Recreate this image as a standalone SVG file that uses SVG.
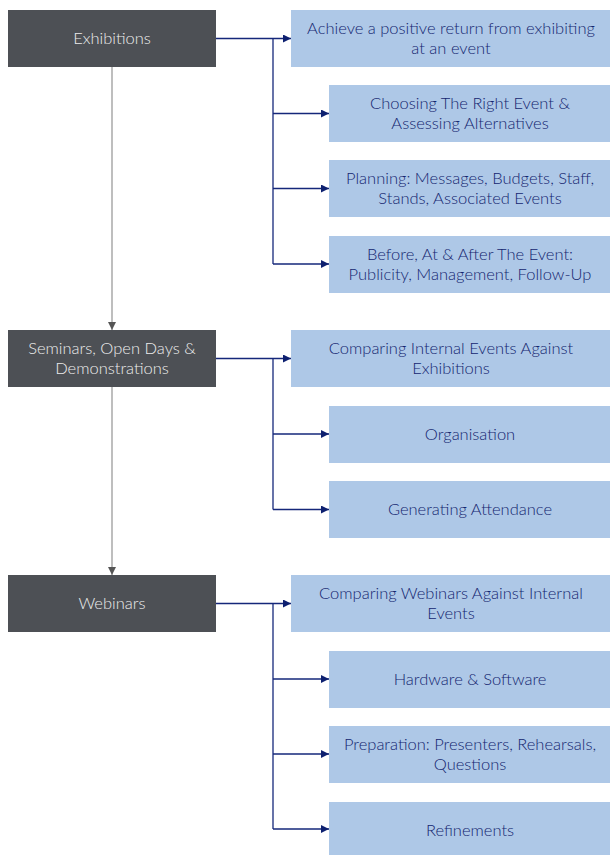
<svg xmlns="http://www.w3.org/2000/svg" width="610" height="855" viewBox="0 0 610 855">
<style>
.main{fill:#4d5055}
.sub{fill:#aec8e7}
.mt{font-family:Lato,"Open Sans",sans-serif;font-size:16.5px;font-weight:300;fill:#ececec;text-anchor:middle}
.st{font-family:Lato,"Open Sans",sans-serif;font-size:16.5px;font-weight:300;fill:#142670;text-anchor:middle}
.nv{fill:none;stroke:#15277a;stroke-width:1.3}
.gr{fill:none;stroke:#a8a8a8;stroke-width:1.5}
</style>
<defs>
<marker id="an" viewBox="0 0 10 10" refX="10" refY="5" markerWidth="8" markerHeight="8" markerUnits="userSpaceOnUse" orient="auto"><path d="M0,0L10,5L0,10z" fill="#0d2070"/></marker>
<marker id="ag" viewBox="0 0 10 10" refX="10" refY="5" markerWidth="8" markerHeight="8" markerUnits="userSpaceOnUse" orient="auto"><path d="M0,0L10,5L0,10z" fill="#555"/></marker>
</defs>
<rect width="610" height="855" fill="#fff"/>
<g id="connectors">
<path class="gr" d="M112,67V330" marker-end="url(#ag)"/>
<path class="gr" d="M112,387V575" marker-end="url(#ag)"/>
<path class="nv" d="M216,38.5H291" marker-end="url(#an)"/>
<path class="nv" d="M273,38.5V264"/>
<path class="nv" d="M273,113.5H329" marker-end="url(#an)"/>
<path class="nv" d="M273,188.5H329" marker-end="url(#an)"/>
<path class="nv" d="M273,264H329" marker-end="url(#an)"/>
<path class="nv" d="M216,358.5H291" marker-end="url(#an)"/>
<path class="nv" d="M273,358.5V509.5"/>
<path class="nv" d="M273,434H329" marker-end="url(#an)"/>
<path class="nv" d="M273,509.5H329" marker-end="url(#an)"/>
<path class="nv" d="M216,603.5H291" marker-end="url(#an)"/>
<path class="nv" d="M273,603.5V829"/>
<path class="nv" d="M273,679H329" marker-end="url(#an)"/>
<path class="nv" d="M273,754H329" marker-end="url(#an)"/>
<path class="nv" d="M273,829H329" marker-end="url(#an)"/>
</g>
<g id="exhibitions"><rect class="main" x="8" y="10" width="208" height="57"/><text class="mt" x="112" y="44">Exhibitions</text></g>
<g id="seminars"><rect class="main" x="8" y="330" width="208" height="57"/><text class="mt" x="112" y="354">Seminars, Open Days &amp;</text><text class="mt" x="112" y="374">Demonstrations</text></g>
<g id="webinars"><rect class="main" x="8" y="575" width="208" height="57"/><text class="mt" x="112" y="609">Webinars</text></g>
<g id="e1"><rect class="sub" x="291" y="10" width="319" height="57"/><text class="st" x="451" y="34">Achieve a positive return from exhibiting</text><text class="st" x="451" y="54">at an event</text></g>
<g id="e2"><rect class="sub" x="329" y="85" width="281" height="57"/><text class="st" x="470" y="109">Choosing The Right Event &amp;</text><text class="st" x="470" y="129">Assessing Alternatives</text></g>
<g id="e3"><rect class="sub" x="329" y="160" width="281" height="57"/><text class="st" x="470" y="184">Planning: Messages, Budgets, Staff,</text><text class="st" x="470" y="204">Stands, Associated Events</text></g>
<g id="e4"><rect class="sub" x="329" y="236" width="281" height="57"/><text class="st" x="470" y="260">Before, At &amp; After The Event:</text><text class="st" x="470" y="280">Publicity, Management, Follow-Up</text></g>
<g id="s1"><rect class="sub" x="291" y="330" width="319" height="57"/><text class="st" x="451" y="354">Comparing Internal Events Against</text><text class="st" x="451" y="374">Exhibitions</text></g>
<g id="s2"><rect class="sub" x="329" y="406" width="281" height="57"/><text class="st" x="470" y="440">Organisation</text></g>
<g id="s3"><rect class="sub" x="329" y="481" width="281" height="57"/><text class="st" x="470" y="515">Generating Attendance</text></g>
<g id="w1"><rect class="sub" x="291" y="575" width="319" height="57"/><text class="st" x="451" y="599">Comparing Webinars Against Internal</text><text class="st" x="451" y="619">Events</text></g>
<g id="w2"><rect class="sub" x="329" y="651" width="281" height="57"/><text class="st" x="470" y="685">Hardware &amp; Software</text></g>
<g id="w3"><rect class="sub" x="329" y="726" width="281" height="57"/><text class="st" x="470" y="750">Preparation: Presenters, Rehearsals,</text><text class="st" x="470" y="770">Questions</text></g>
<g id="w4"><rect class="sub" x="329" y="802" width="281" height="57"/><text class="st" x="470" y="836">Refinements</text></g>
</svg>
